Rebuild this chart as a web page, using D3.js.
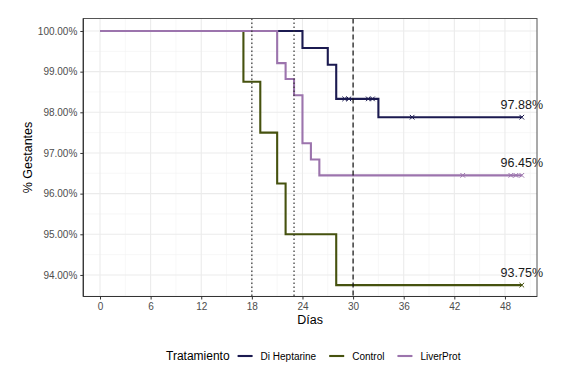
<!DOCTYPE html>
<html><head><meta charset="utf-8">
<script src="https://cdn.jsdelivr.net/npm/d3@7"></script>
<style>body{margin:0;background:#fff}svg{display:block;font-family:"Liberation Sans",Arial,sans-serif}</style>
</head><body><svg id="c" width="571" height="374"></svg>
<script>
const seriesNames = ["Di Heptarine", "Control", "LiverProt"];
const seriesColors = ["#1b1a50", "#46520f", "#9c74ad"];
const diTimes = [0, 24, 27, 28, 33];
const diSurv = [100, 99.58, 99.17, 98.33, 97.88];
const diCensor = [29, 29.5, 31.8, 32.3, 37, 50];
const ctTimes = [0, 17, 19, 21, 22, 28];
const ctSurv = [100, 98.75, 97.5, 96.25, 95, 93.75];
const ctCensor = [50];
const lpTimes = [0, 21, 22, 23, 24, 25, 26];
const lpSurv = [100, 99.21, 98.82, 98.42, 97.24, 96.84, 96.45];
const lpCensor = [43, 48.7, 49.3, 50];
const endDay = 50;
const endLabels = ["97.88%", "93.75%", "96.45%"];
const xTicks = [0, 6, 12, 18, 24, 30, 36, 42, 48];
const yTicks = [94, 95, 96, 97, 98, 99, 100];
const refDotted = [18, 23];
const refDashed = [30];

const svg = d3.select("#c");
const L = 83.3, R = 537, T = 18.5, B = 296.5;
const x = d3.scaleLinear().domain([-1.98, 51.8]).range([L, R]);
const y = d3.scaleLinear().domain([93.47, 100.307]).range([B, T]);

// grid
const g = svg.append("g");
const xMinor = d3.range(-3, 52, 3).filter(v => v % 6 !== 0 && x(v) > L && x(v) < R);
const yMinor = d3.range(93.5, 100.4, 1);
g.selectAll(".xm").data(xMinor).join("line").attr("x1", d => x(d)).attr("x2", d => x(d)).attr("y1", T).attr("y2", B).attr("stroke", "#f2f2f2").attr("stroke-width", 0.6);
g.selectAll(".ym").data(yMinor).join("line").attr("y1", d => y(d)).attr("y2", d => y(d)).attr("x1", L).attr("x2", R).attr("stroke", "#f2f2f2").attr("stroke-width", 0.6);
g.selectAll(".xM").data(xTicks).join("line").attr("x1", d => x(d)).attr("x2", d => x(d)).attr("y1", T).attr("y2", B).attr("stroke", "#ebebeb").attr("stroke-width", 1.1);
g.selectAll(".yM").data(yTicks).join("line").attr("y1", d => y(d)).attr("y2", d => y(d)).attr("x1", L).attr("x2", R).attr("stroke", "#ebebeb").attr("stroke-width", 1.1);

// curves
const data = [
  {t: diTimes, s: diSurv, c: diCensor},
  {t: ctTimes, s: ctSurv, c: ctCensor},
  {t: lpTimes, s: lpSurv, c: lpCensor}
];
const line = d3.line().x(d => x(d[0])).y(d => y(d[1])).curve(d3.curveStepAfter);
function survAt(ser, day) {
  let v = ser.s[0];
  ser.t.forEach((t, i) => { if (t <= day) v = ser.s[i]; });
  return v;
}
data.forEach((ser, i) => {
  const pts = ser.t.map((t, j) => [t, ser.s[j]]);
  pts.push([endDay, ser.s[ser.s.length - 1]]);
  svg.append("path").attr("d", line(pts)).attr("fill", "none").attr("stroke", seriesColors[i]).attr("stroke-width", 2.1);
  ser.c.forEach(cd => {
    const cx = x(cd), cy = y(survAt(ser, cd)), h = 2.3;
    svg.append("path").attr("d", `M${cx-h},${cy-h}L${cx+h},${cy+h}M${cx-h},${cy+h}L${cx+h},${cy-h}`).attr("stroke", seriesColors[i]).attr("stroke-width", 1);
  });
});

// reference lines
refDotted.forEach(d => svg.append("line").attr("x1", x(d)).attr("x2", x(d)).attr("y1", T).attr("y2", B).attr("stroke", "#333").attr("stroke-width", 1.2).attr("stroke-dasharray", "1.5,2.5"));
refDashed.forEach(d => svg.append("line").attr("x1", x(d)).attr("x2", x(d)).attr("y1", T).attr("y2", B).attr("stroke", "#111").attr("stroke-width", 1.2).attr("stroke-dasharray", "5,3"));

// end labels
data.forEach((ser, i) => {
  svg.append("text").attr("x", x(endDay)).attr("y", y(ser.s[ser.s.length - 1]) - 8.5).attr("text-anchor", "middle").attr("font-size", 12.5).attr("fill", "#1a1a1a").text(endLabels[i]);
});

// panel border
svg.append("rect").attr("x", L).attr("y", T).attr("width", R - L).attr("height", B - T).attr("fill", "none").attr("stroke", "#555").attr("stroke-width", 1);

// axes
const ax = svg.append("g").attr("transform", `translate(0,${B})`).call(d3.axisBottom(x).tickValues(xTicks).tickSize(3).tickPadding(3));
const ay = svg.append("g").attr("transform", `translate(${L},0)`).call(d3.axisLeft(y).tickValues(yTicks).tickSize(3).tickPadding(3).tickFormat(d => d.toFixed(2) + "%"));
[ax, ay].forEach(a => {
  a.select(".domain").attr("stroke", "#333").attr("stroke-width", 1.2);
  a.selectAll(".tick line").attr("stroke", "#333");
  a.selectAll("text").attr("fill", "#4d4d4d").attr("font-size", 10).attr("font-family", "Liberation Sans, Arial, sans-serif");
});
ax.select(".domain").attr("d", `M${L},0H${R}`);
ay.select(".domain").attr("d", `M0,${B}V${T}`);

// titles
svg.append("text").attr("x", (L + R) / 2).attr("y", 324).attr("text-anchor", "middle").attr("font-size", 12.5).attr("fill", "#000").text("Días");
svg.append("text").attr("transform", `translate(32,${(T + B) / 2}) rotate(-90)`).attr("text-anchor", "middle").attr("font-size", 12.5).attr("fill", "#000").text("% Gestantes");

// legend
const lg = svg.append("g").attr("transform", "translate(166,360)");
const title = lg.append("text").attr("x", 0).attr("y", 0).attr("font-size", 12).attr("fill", "#000").text("Tratamiento");
let cx = title.node().getComputedTextLength() + 8;
seriesNames.forEach((n, i) => {
  lg.append("line").attr("x1", cx).attr("x2", cx + 15).attr("y1", -4).attr("y2", -4).attr("stroke", seriesColors[i]).attr("stroke-width", 2.1);
  const t = lg.append("text").attr("x", cx + 23).attr("y", 0).attr("font-size", 10).attr("fill", "#000").text(n);
  cx += 23 + t.node().getComputedTextLength() + 13;
});
</script></body></html>
